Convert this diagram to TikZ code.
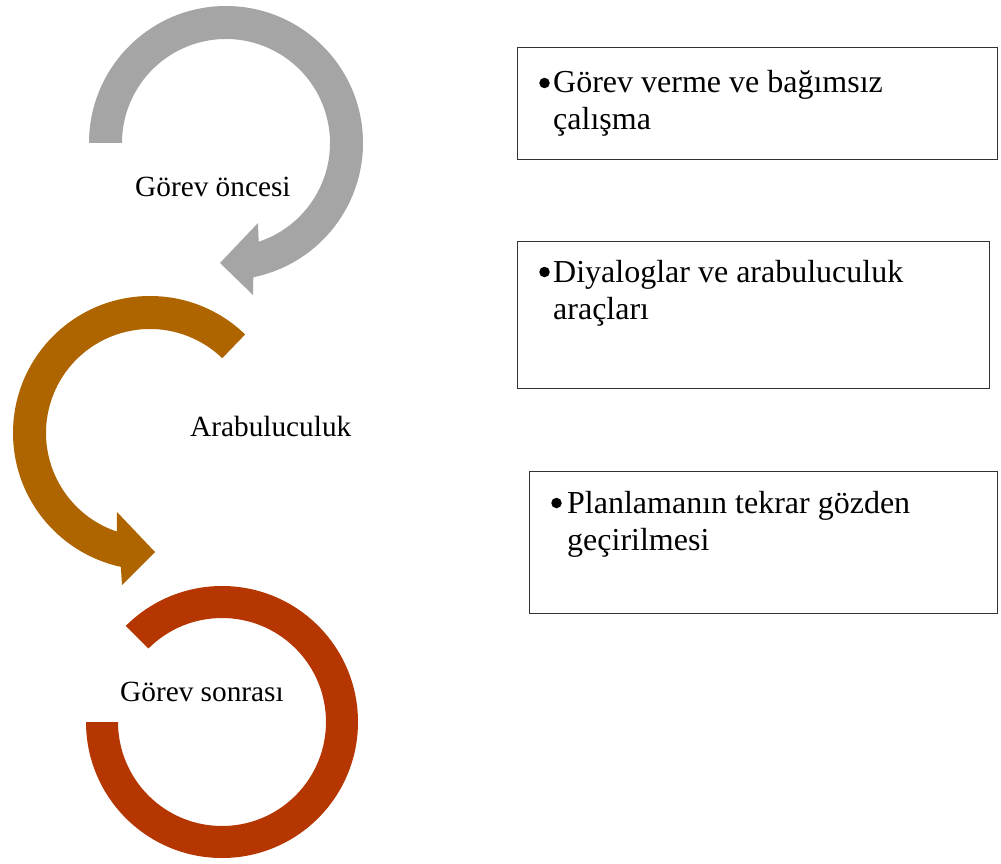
\documentclass[tikz,border=0pt]{standalone}
\usepackage{fontspec}
\setmainfont{Liberation Serif}
\begin{document}
\begin{tikzpicture}[x=1pt,y=1pt,
  stage/.style={anchor=base west,inner sep=0pt,font=\fontsize{29.3}{35}\selectfont},
  panel/.style={draw=black!80,line width=1.2pt,anchor=north west,inner sep=0pt},
  item/.style={anchor=base west,inner sep=0pt,align=left,font=\fontsize{32}{37}\selectfont},
  dot/.style={circle,fill=black,inner sep=0pt,minimum size=10.5pt}]
\definecolor{stepgrey}{HTML}{A5A5A5}
\definecolor{stepbrown}{HTML}{AE6500}
\definecolor{stepred}{HTML}{B53600}
\useasboundingbox (0,0) rectangle (1001,-864);

% first stage: grey circular arrow turning clockwise
\fill[stepgrey] ([shift={(226,-143)}]180:137)
  arc[start angle=180,end angle=-78.5,radius=137]
  -- (253,-295) -- (220,-263) -- (258,-223)
  -- ([shift={(226,-143)}]-71.7:104)
  arc[start angle=-71.7,end angle=180,radius=104] -- cycle;

% second stage: brown circular arrow turning counter-clockwise
\fill[stepbrown] ([shift={(150,-433)}]46:137)
  arc[start angle=46,end angle=257.7,radius=137]
  -- (122,-585) -- (155,-552) -- (117,-512)
  -- ([shift={(150,-433)}]251.4:104)
  arc[start angle=251.4,end angle=46,radius=104] -- cycle;

% third stage: open red ring
\fill[stepred] ([shift={(222,-722)}]180:136)
  arc[start angle=180,end angle=495,radius=136]
  -- ([shift={(222,-722)}]135:104)
  arc[start angle=135,end angle=-180,radius=104] -- cycle;

% stage names
\node[stage] (s1) at (135,-196) {Görev öncesi};
\node[stage] (s2) at (190,-436) {Arabuluculuk};
\node[stage] (s3) at (120,-701) {Görev sonrası};

% description panels
\node[panel,minimum width=480pt,minimum height=112pt] (p1) at (517,-47) {};
\node[panel,minimum width=472pt,minimum height=147pt] (p2) at (517,-241) {};
\node[panel,minimum width=468pt,minimum height=142pt] (p3) at (529,-471) {};

% bullets and their texts (anchored on the last line's baseline)
\node[dot] (d1) at (544.5,-83) {};
\node[dot] (d2) at (544.5,-272) {};
\node[dot] (d3) at (556.5,-503) {};
\node[item] (t1) at (553,-130) {Görev verme ve bağımsız\\çalışma};
\node[item] (t2) at (553,-319) {Diyaloglar ve arabuluculuk\\araçları};
\node[item] (t3) at (567,-550) {Planlamanın tekrar gözden\\geçirilmesi};
\end{tikzpicture}
\end{document}
